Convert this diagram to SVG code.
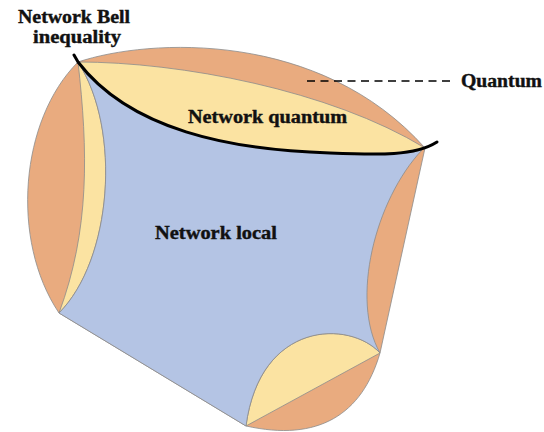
<svg xmlns="http://www.w3.org/2000/svg" width="544" height="432" viewBox="0 0 544 432">
<style>
.o{fill:#E9AB7F;stroke:#8C8C8C;stroke-width:0.8}
.y{fill:#FBE3A2;stroke:#8C8C8C;stroke-width:0.8}
.b{fill:#B4C4E4;stroke:#8C8C8C;stroke-width:0.8}
.t{font-family:"Liberation Serif","Times New Roman",serif;font-weight:bold;font-size:18px;fill:#111;stroke:#111;stroke-width:0.4}
</style>
<rect width="544" height="432" fill="#fff"/>
<g id="regions">
<path id="quantum-set" class="o" d="M78,62 C150,38 320,30 425,148 L380,353 C362,415 318,442 246,426 L59,313 C10,240 20,120 78,62 Z"/>
<path id="nq-top" class="y" d="M78,62 C180,62 330,90 425,148 C415,152 380,155 330,153 C230,150 130,130 78,62 Z"/>
<path id="nq-left" class="y" d="M78,62 C88,150 90,230 59,313 C112,260 122,130 78,62 Z"/>
<path id="nq-bottom" class="y" d="M380,353 C350,320 260,320 246,426 L380,353 Z"/>
<path id="local-set" class="b" d="M78,62 C130,130 230,150 330,153 C378,155 408,154 422,150 C375,200 350,300 380,353 C350,320 260,320 246,426 L59,313 C112,260 122,130 78,62 Z"/>
</g>
<g id="connectors">
<path id="bell-ineq" d="M74,55 L78,62 C130,130 230,150 330,153 C380,155 415,156 437,142" fill="none" stroke="#000" stroke-width="3" stroke-linecap="round"/>
<line x1="307" y1="81" x2="454" y2="81" stroke="#000" stroke-width="1.6" stroke-dasharray="8,5.5"/>
</g>
<g id="labels">
<text class="t" x="18" y="23" textLength="112" lengthAdjust="spacingAndGlyphs">Network Bell</text>
<text class="t" x="33" y="42.5" textLength="88" lengthAdjust="spacingAndGlyphs">inequality</text>
<text class="t" x="188" y="123" textLength="159" lengthAdjust="spacingAndGlyphs">Network quantum</text>
<text class="t" x="155" y="239" textLength="122" lengthAdjust="spacingAndGlyphs">Network local</text>
<text class="t" x="461" y="87" textLength="81" lengthAdjust="spacingAndGlyphs">Quantum</text>
</g>
</svg>
